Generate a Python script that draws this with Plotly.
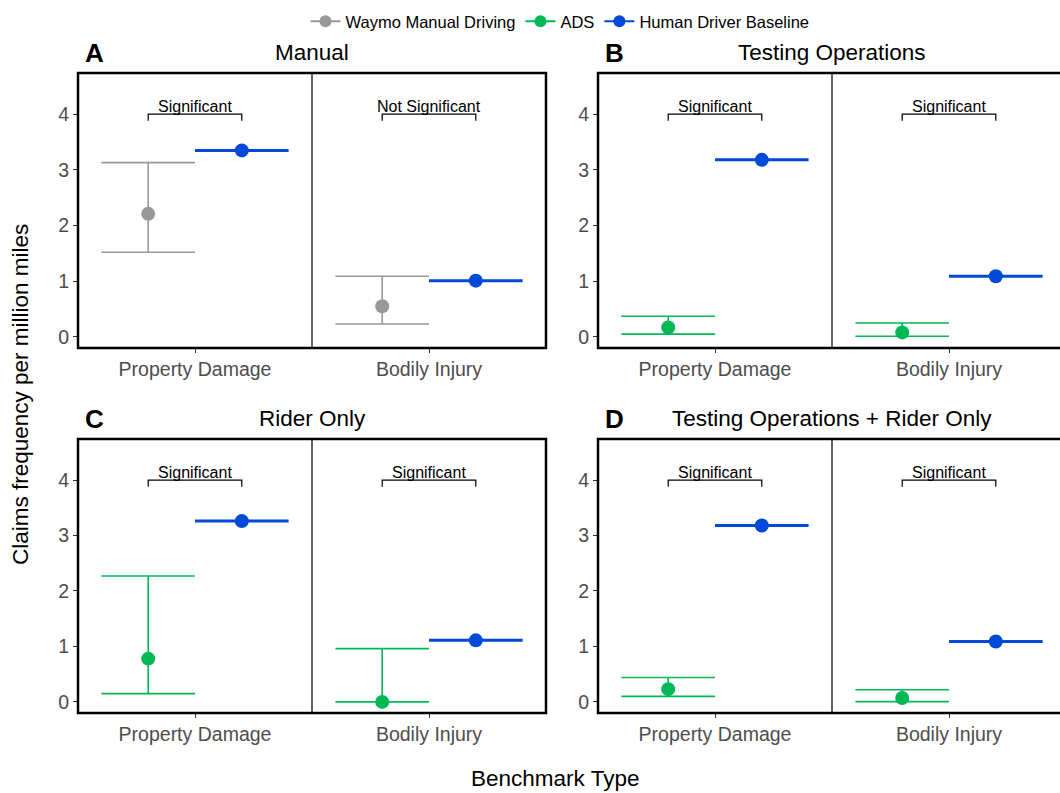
import plotly.graph_objects as go

# ---------------- data ----------------
categories = ["Property Damage", "Bodily Injury"]
panel_letters = ["A", "B", "C", "D"]
panel_titles = ["Manual", "Testing Operations", "Rider Only", "Testing Operations + Rider Only"]
comparison_series = ["Waymo Manual Driving", "ADS", "ADS", "ADS"]

# comparison (Waymo manual / ADS) estimates and 95% CI per panel: [PD, BI]
cmp_est = [[2.21, 0.55], [0.17, 0.08], [0.78, 0.00], [0.23, 0.07]]
cmp_low = [[1.52, 0.23], [0.05, 0.01], [0.15, 0.00], [0.10, 0.005]]
cmp_high = [[3.13, 1.09], [0.37, 0.25], [2.27, 0.96], [0.44, 0.22]]

# human driver baseline per panel: [PD, BI]
human_est = [[3.35, 1.01], [3.18, 1.09], [3.26, 1.11], [3.18, 1.09]]

significance = [["Significant", "Not Significant"], ["Significant", "Significant"],
                ["Significant", "Significant"], ["Significant", "Significant"]]
sig_y = 4.0
y_ticks = [0, 1, 2, 3, 4]

# ---------------- style ----------------
colors = {"Waymo Manual Driving": "#999999", "ADS": "#00B956", "Human Driver Baseline": "#0049D9"}
W, H = 1060, 793
FONT = "Liberation Sans, Arial, sans-serif"
dodge = 0.2

# panel plot areas in pixels (left, right, top, bottom)
boxes = [(78, 546, 73, 348), (598, 1066, 73, 348), (78, 546, 439, 713), (598, 1066, 439, 713)]

fig = go.Figure()
layout = {}

for i in range(4):
    L, R, T, B = boxes[i]
    ax = "" if i == 0 else str(i + 1)
    xa, ya = "x" + ax, "y" + ax
    unit = (R - L) / 2.0
    x0 = -0.5
    x_end = x0 + (min(R, W) - L) / unit
    ymin, ymax = -0.2, 4.74
    dom_x = [L / W, min(R, W) / W]
    dom_y = [1 - B / H, 1 - T / H]
    layout["xaxis" + ax] = dict(domain=dom_x, range=[x0, x_end], anchor=ya,
                                tickvals=[0, 1], ticktext=categories,
                                showgrid=False, zeroline=False, showline=False,
                                ticks="outside", ticklen=4, tickcolor="#333333", tickwidth=1,
                                tickfont=dict(size=19.5, color="#4D4D4D", family=FONT))
    layout["yaxis" + ax] = dict(domain=dom_y, range=[ymin, ymax], anchor=xa,
                                tickvals=y_ticks, showgrid=False, zeroline=False, showline=False,
                                ticks="outside", ticklen=4, tickcolor="#333333", tickwidth=1,
                                tickfont=dict(size=19.5, color="#4D4D4D", family=FONT))

    cname = comparison_series[i]
    xs_c = [k - dodge for k in range(len(categories))]
    xs_h = [k + dodge for k in range(len(categories))]
    est = cmp_est[i]
    fig.add_trace(go.Scatter(
        x=xs_c, y=est, xaxis=xa, yaxis=ya, mode="markers",
        marker=dict(size=14, color=colors[cname]),
        error_y=dict(type="data", symmetric=False,
                     array=[h - e for h, e in zip(cmp_high[i], est)],
                     arrayminus=[e - l for e, l in zip(est, cmp_low[i])],
                     color=colors[cname], thickness=1.6, width=unit * dodge),
        name=cname, showlegend=False, hoverinfo="skip"))
    fig.add_trace(go.Scatter(
        x=xs_h, y=human_est[i], xaxis=xa, yaxis=ya, mode="markers",
        marker=dict(size=14, color=colors["Human Driver Baseline"]),
        error_y=dict(type="data", array=[0, 0], color=colors["Human Driver Baseline"],
                     thickness=3, width=unit * dodge),
        name="Human Driver Baseline", showlegend=False, hoverinfo="skip"))

    # significance brackets
    for k in range(len(categories)):
        fig.add_trace(go.Scatter(
            x=[k - dodge, k - dodge, k + dodge, k + dodge],
            y=[sig_y - 0.12, sig_y, sig_y, sig_y - 0.12],
            xaxis=xa, yaxis=ya, mode="lines", line=dict(color="black", width=1.2),
            showlegend=False, hoverinfo="skip"))
        fig.add_annotation(x=k, y=sig_y, xref=xa, yref=ya, text=significance[i][k],
                           showarrow=False, xanchor="center", yanchor="bottom", yshift=-3,
                           font=dict(size=16, color="black", family=FONT))

    # divider between categories
    fig.add_shape(type="line", x0=0.5, x1=0.5, y0=0, y1=1, xref=xa, yref=ya + " domain",
                  line=dict(color="#333333", width=1.5))
    # panel border
    fig.add_shape(type="rect", x0=0, x1=(R - L) / (min(R, W) - L), y0=0, y1=1,
                  xref=xa + " domain", yref=ya + " domain",
                  line=dict(color="black", width=2.5))

    # titles
    cx = (L + R) / 2.0 / W
    fig.add_annotation(x=cx, y=1 - (T - 6) / H, xref="paper", yref="paper",
                       text=panel_titles[i], showarrow=False, xanchor="center", yanchor="bottom",
                       font=dict(size=22.5, color="black", family=FONT))
    fig.add_annotation(x=(L + 5) / W, y=1 - (T - 3) / H, xref="paper", yref="paper",
                       text="<b>" + panel_letters[i] + "</b>", showarrow=False,
                       xanchor="left", yanchor="bottom",
                       font=dict(size=26, color="black", family=FONT))

# legend entries
for name in ["Waymo Manual Driving", "ADS", "Human Driver Baseline"]:
    fig.add_trace(go.Scatter(x=[None], y=[None], mode="lines+markers", name=name,
                             marker=dict(size=12, color=colors[name]),
                             line=dict(color=colors[name], width=2)))

fig.add_annotation(x=555 / W, y=1 - 778 / H, xref="paper", yref="paper",
                   text="Benchmark Type", showarrow=False, xanchor="center", yanchor="middle",
                   font=dict(size=22.5, color="black", family=FONT))
fig.add_annotation(x=20 / W, y=1 - 395 / H, xref="paper", yref="paper",
                   text="Claims frequency per million miles", showarrow=False, textangle=-90,
                   xanchor="center", yanchor="middle",
                   font=dict(size=22.5, color="black", family=FONT))

fig.update_layout(**layout)
fig.update_layout(width=W, height=H, margin=dict(l=0, r=0, t=0, b=0),
                  plot_bgcolor="white", paper_bgcolor="white",
                  font=dict(family=FONT),
                  legend=dict(orientation="h", x=560 / W, xanchor="center", y=1 - 4 / H, yanchor="top",
                              font=dict(size=16.5, color="black", family=FONT),
                              itemwidth=30, bgcolor="rgba(0,0,0,0)"))
fig.write_html("out.html", config={"displayModeBar": False},
               post_script="document.body.style.margin='0px';")
